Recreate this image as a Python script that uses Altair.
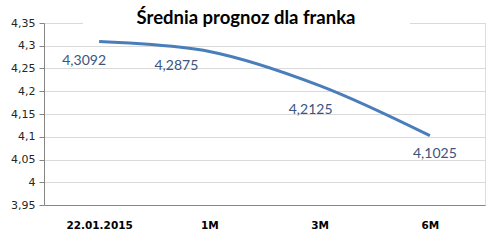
import altair as alt
import pandas as pd

categories = ["22.01.2015", "1M", "3M", "6M"]
values = [4.3092, 4.2875, 4.2125, 4.1025]
labels = ["4,3092", "4,2875", "4,2125", "4,1025"]
y_ticks = [3.95, 4.0, 4.05, 4.1, 4.15, 4.2, 4.25, 4.3, 4.35]
title_text = "Średnia prognoz dla franka"

# label offsets (styling, in pixels)
label_dx = [-15, -33, -9, 5]
label_dy = [19, 15, 24, 18]

df = pd.DataFrame({"cat": categories, "val": values, "lab": labels})

x_enc = alt.X("cat:N", sort=categories, title=None,
              scale=alt.Scale(type="point", padding=0.5),
              axis=alt.Axis(labelAngle=0, ticks=False, domainColor="#868686",
                            labelFont="DejaVu Sans", labelFontWeight="bold",
                            labelFontSize=10.5, labelColor="#000000", labelPadding=15,
                            grid=False))
y_enc = alt.Y("val:Q", title=None,
              scale=alt.Scale(domain=[3.95, 4.35], nice=False, zero=False),
              axis=alt.Axis(values=y_ticks, labelOverlap=False,
                            labelExpr="replace(format(datum.value, '.2~f'), '.', ',')",
                            labelFont="DejaVu Sans", labelFontSize=11,
                            labelColor="#262626", labelPadding=4,
                            tickSize=5, tickColor="#868686", domainColor="#868686",
                            gridColor="#d9d9d9", gridWidth=1))

line = alt.Chart(df).mark_line(color="#4a7ebb", strokeWidth=3,
                               interpolate="catmull-rom").encode(x=x_enc, y=y_enc)

label_layers = []
for i, c in enumerate(categories):
    label_layers.append(
        alt.Chart(df).transform_filter(alt.datum.cat == c).mark_text(
            font="Lato", fontSize=14, color="#3b5480", baseline="middle",
            align="center", dx=label_dx[i], dy=label_dy[i]
        ).encode(x=x_enc, y=y_enc, text="lab:N")
    )

title_df = pd.DataFrame({"t": [title_text]})
title_bg = alt.Chart(title_df).mark_rect(color="white").encode(
    x=alt.value(39), x2=alt.value(366), y=alt.value(-15), y2=alt.value(8))
title_mark = alt.Chart(title_df).mark_text(
    font="Lato", fontSize=18.5, fontWeight="bold", color="#000000",
    align="center", baseline="middle").encode(
    x=alt.value(202), y=alt.value(-5), text="t:N")

chart = alt.layer(line, title_bg, title_mark, *label_layers).properties(
    width=441, height=182,
    autosize=alt.AutoSizeParams(type="none"),
    padding={"left": 44, "top": 23, "right": 13, "bottom": 38},
).configure_view(stroke=None).configure(background="white").configure_axis(
    labelOverlap=False)

chart.save("out.html", embed_options={"renderer": "svg", "actions": False})
